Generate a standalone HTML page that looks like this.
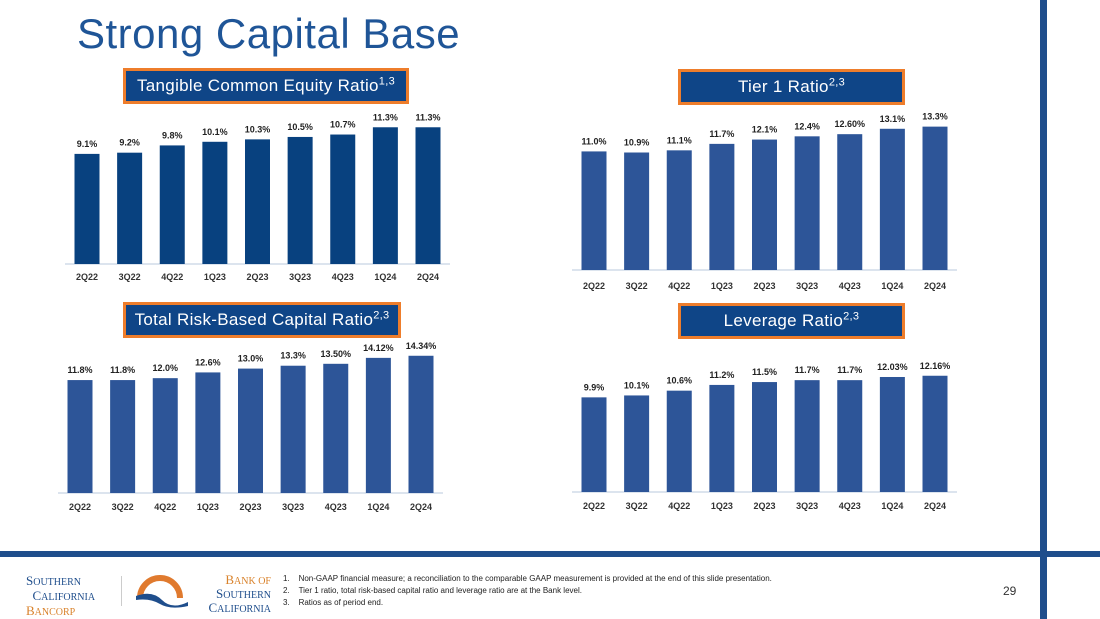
<!DOCTYPE html>
<html><head><meta charset="utf-8">
<style>
html,body{margin:0;padding:0;background:#fff;}
body{width:1100px;height:619px;position:relative;overflow:hidden;font-family:"Liberation Sans",sans-serif;}
.title{position:absolute;left:77px;top:10px;font-size:42px;color:#1f5597;letter-spacing:0.5px;}
.lbl{position:absolute;background:#0f4587;border:3px solid #ee7d2b;color:#fff;font-size:17px;letter-spacing:0.3px;text-align:center;box-sizing:border-box;line-height:30px;}
.lbl sup{font-size:11px;line-height:0;}
svg{position:absolute;left:0;top:0;}
.foot{position:absolute;font-size:8px;color:#222;}
</style></head><body>
<div class="title">Strong Capital Base</div>
<div style="position:absolute;left:1040px;top:0;width:7px;height:619px;background:#1f4e8c"></div>
<div style="position:absolute;left:0;top:551px;width:1100px;height:6px;background:#1f4e8c"></div>

<div class="lbl" style="left:123px;top:68px;width:286px;height:36px">Tangible Common Equity Ratio<sup>1,3</sup></div>
<div class="lbl" style="left:678px;top:69px;width:227px;height:36px">Tier 1 Ratio<sup>2,3</sup></div>
<div class="lbl" style="left:123px;top:302px;width:278px;height:36px">Total Risk-Based Capital Ratio<sup>2,3</sup></div>
<div class="lbl" style="left:678px;top:303px;width:227px;height:36px">Leverage Ratio<sup>2,3</sup></div>

<svg id="chart" width="1100" height="619"></svg>

<div style="position:absolute;left:26px;top:574px;font-family:'Liberation Serif',serif;font-size:13px;line-height:13px;color:#1f4e8c">S<span style="font-size:10px">OUTHERN</span><br>&nbsp;&nbsp;C<span style="font-size:10px">ALIFORNIA</span><br><span style="color:#d9822b">B<span style="font-size:10px">ANCORP</span></span></div>
<div style="position:absolute;left:121px;top:576px;width:1px;height:30px;background:#ccc"></div>
<svg style="left:134px;top:572px" width="55" height="38">
<path d="M6 26 A20 20 0 0 1 46 26" fill="none" stroke="#e07a2e" stroke-width="6"/>
<path d="M2 24 Q18 18 28 28 T54 30 L54 34 Q36 38 26 32 T2 28Z" fill="#1f4e8c"/>
</svg>
<div style="position:absolute;left:186px;top:574px;font-family:'Liberation Serif',serif;font-size:13px;line-height:12px;color:#1f4e8c;text-align:right;width:85px"><span style="color:#d9822b">B<span style="font-size:10px">ANK OF</span></span><br>S<span style="font-size:10px">OUTHERN</span><br>C<span style="font-size:10px">ALIFORNIA</span></div>
<div class="foot" style="left:283px;top:574px">1.&nbsp;&nbsp;&nbsp;&nbsp;Non-GAAP financial measure; a reconciliation to the comparable GAAP measurement is provided at the end of this slide presentation.</div>
<div class="foot" style="left:283px;top:586px">2.&nbsp;&nbsp;&nbsp;&nbsp;Tier 1 ratio, total risk-based capital ratio and leverage ratio are at the Bank level.</div>
<div class="foot" style="left:283px;top:598px">3.&nbsp;&nbsp;&nbsp;&nbsp;Ratios as of period end.</div>
<div style="position:absolute;left:1003px;top:584px;font-size:12px;color:#333">29</div>

<script>
const categories = ["2Q22","3Q22","4Q22","1Q23","2Q23","3Q23","4Q23","1Q24","2Q24"];
const tceValues = [9.1,9.2,9.8,10.1,10.3,10.5,10.7,11.3,11.3];
const tceLabels = ["9.1%","9.2%","9.8%","10.1%","10.3%","10.5%","10.7%","11.3%","11.3%"];
const tier1Values = [11.0,10.9,11.1,11.7,12.1,12.4,12.6,13.1,13.3];
const tier1Labels = ["11.0%","10.9%","11.1%","11.7%","12.1%","12.4%","12.60%","13.1%","13.3%"];
const trbcValues = [11.8,11.8,12.0,12.6,13.0,13.3,13.5,14.12,14.34];
const trbcLabels = ["11.8%","11.8%","12.0%","12.6%","13.0%","13.3%","13.50%","14.12%","14.34%"];
const levValues = [9.9,10.1,10.6,11.2,11.5,11.7,11.7,12.03,12.16];
const levLabels = ["9.9%","10.1%","10.6%","11.2%","11.5%","11.7%","11.7%","12.03%","12.16%"];

const svg = document.getElementById('chart');
const NS = "http://www.w3.org/2000/svg";
function mk(tag, attrs){const e=document.createElementNS(NS,tag);for(const k in attrs)e.setAttribute(k,attrs[k]);return e;}

function drawChart(name, vals, labels, x0, x1, base, pxPer, color, axisY){
  const n = categories.length;
  const step = (x1 - x0) / (n - 1);
  const xScale = i => x0 + i * step;
  const yScale = v => base - v * pxPer;
  const axis = mk('line',{x1:x0-22,x2:x1+22,y1:base,y2:base,stroke:'#d0dbe8','stroke-width':1.5});
  
  
  svg.appendChild(axis);
  vals.forEach((v,i)=>{
    const cx = xScale(i), top = yScale(v);
    const r = mk('rect',{x:cx-12.5,y:top,width:25,height:base-top,fill:color});
    
    
    svg.appendChild(r);
    const t = mk('text',{x:cx,y:top-7,'text-anchor':'middle','font-size':9,'font-weight':'bold',fill:'#222','font-family':'Liberation Sans, sans-serif'});
    t.textContent = labels[i];
    
    
    svg.appendChild(t);
    const c = mk('text',{x:cx,y:axisY,'text-anchor':'middle','font-size':9,'font-weight':'bold',fill:'#333','font-family':'Liberation Sans, sans-serif'});
    c.textContent = categories[i];
    
    
    svg.appendChild(c);
  });
}
drawChart('tce', tceValues, tceLabels, 87, 428, 264, 12.1, '#08417f', 280);
drawChart('tier1', tier1Values, tier1Labels, 594, 935, 270, 10.78, '#2d5598', 289);
drawChart('trbc', trbcValues, trbcLabels, 80, 421, 493, 9.57, '#2d5598', 510);
drawChart('leverage', levValues, levLabels, 594, 935, 492, 9.56, '#2d5598', 509);
</script>
</body></html>
